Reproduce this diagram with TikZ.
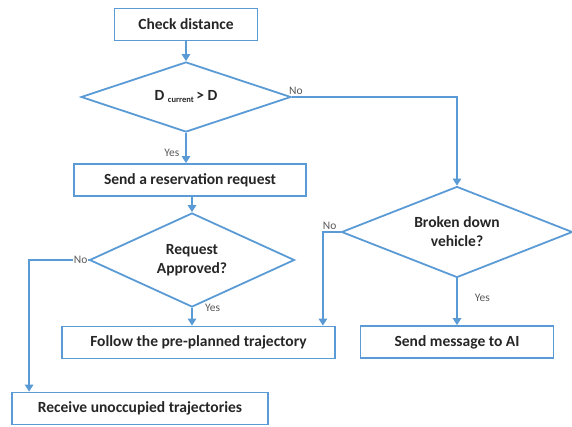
\documentclass[tikz,border=0pt]{standalone}
\usepackage{fontspec}
\setmainfont{Carlito}
\usepackage{xcolor}
\usepackage{tikz}
\usetikzlibrary{arrows.meta,positioning,shapes.geometric,calc}
\definecolor{flowblue}{RGB}{91,155,213}

\begin{document}
\begin{tikzpicture}[x=1pt, y=-1pt,
    box/.style={draw=flowblue, line width=1.8pt, minimum height=32pt, inner sep=2pt,
        font=\fontsize{15.5}{17}\selectfont\bfseries, text=black!85},
    decision/.style={diamond, aspect=2.5, draw=flowblue, line width=1.8pt, inner sep=0pt,
        align=center, font=\fontsize{15.5}{19}\selectfont\bfseries, text=black!85},
    flow/.style={draw=flowblue, line width=1.5pt, -{Triangle[width=8.5pt, length=7pt]}},
    tag/.style={font=\fontsize{11.5}{13}\selectfont, text=black!65, inner sep=1pt}]
    \useasboundingbox (0,0) rectangle (572,426);

    % Process boxes
    \foreach \n/\x/\y/\w/\t in {check/186/24.5/143/Check distance,
        send/190/180/232/Send a reservation request,
        follow/198.5/342.5/273/Follow the pre-planned trajectory,
        msg/457/342/193/Send message to AI,
        recv/140/408.5/256/Receive unoccupied trajectories} {
        \node[box, minimum width=\w pt] (\n) at (\x,\y) {\t};
    }

    % Decisions
    \node[decision, minimum width=210pt, minimum height=70pt] (d1) at (186,97)
        {D \raisebox{-2pt}{\fontsize{8.5}{9}\selectfont current}\,> D};
    \node[decision, minimum width=231pt, minimum height=91pt] (d2) at (457,232)
        {Broken down\\vehicle?};
    \node[decision, minimum width=205pt, minimum height=94pt] (d3) at (192,260)
        {Request\\Approved?};

    % Main flow
    \draw[flow] (check) -- (d1);
    \draw[flow] (d1.south) -- node[tag, pos=0.65, left=5pt] {Yes} (d1.south |- send.north);
    \draw[flow] (send.south -| d3.north) -- (d3.north);
    \draw[flow] (d3.south) -- (d3.south |- follow.north);
    \node[tag, right=12pt of d3.south] {Yes};

    % Right branch
    \draw[flow] (d1.east) -| (d2.north);
    \node[tag, above right=1pt and -4pt of d1.east] {No};
    \draw[flow] (d2.south) -- node[tag, pos=0.42, right=16pt] {Yes} (d2.south |- msg.north);
    \draw[flow] (d2.west) -| ([xshift=-13pt]follow.north east);
    \node[tag, above left=1pt and 3pt of d2.west] {No};

    % Rejected request
    \draw[flow] (d3.west) -| ([xshift=18pt]recv.north west);
    \node[tag, fill=white, left=0pt of d3.west] {No};
\end{tikzpicture}
\end{document}
